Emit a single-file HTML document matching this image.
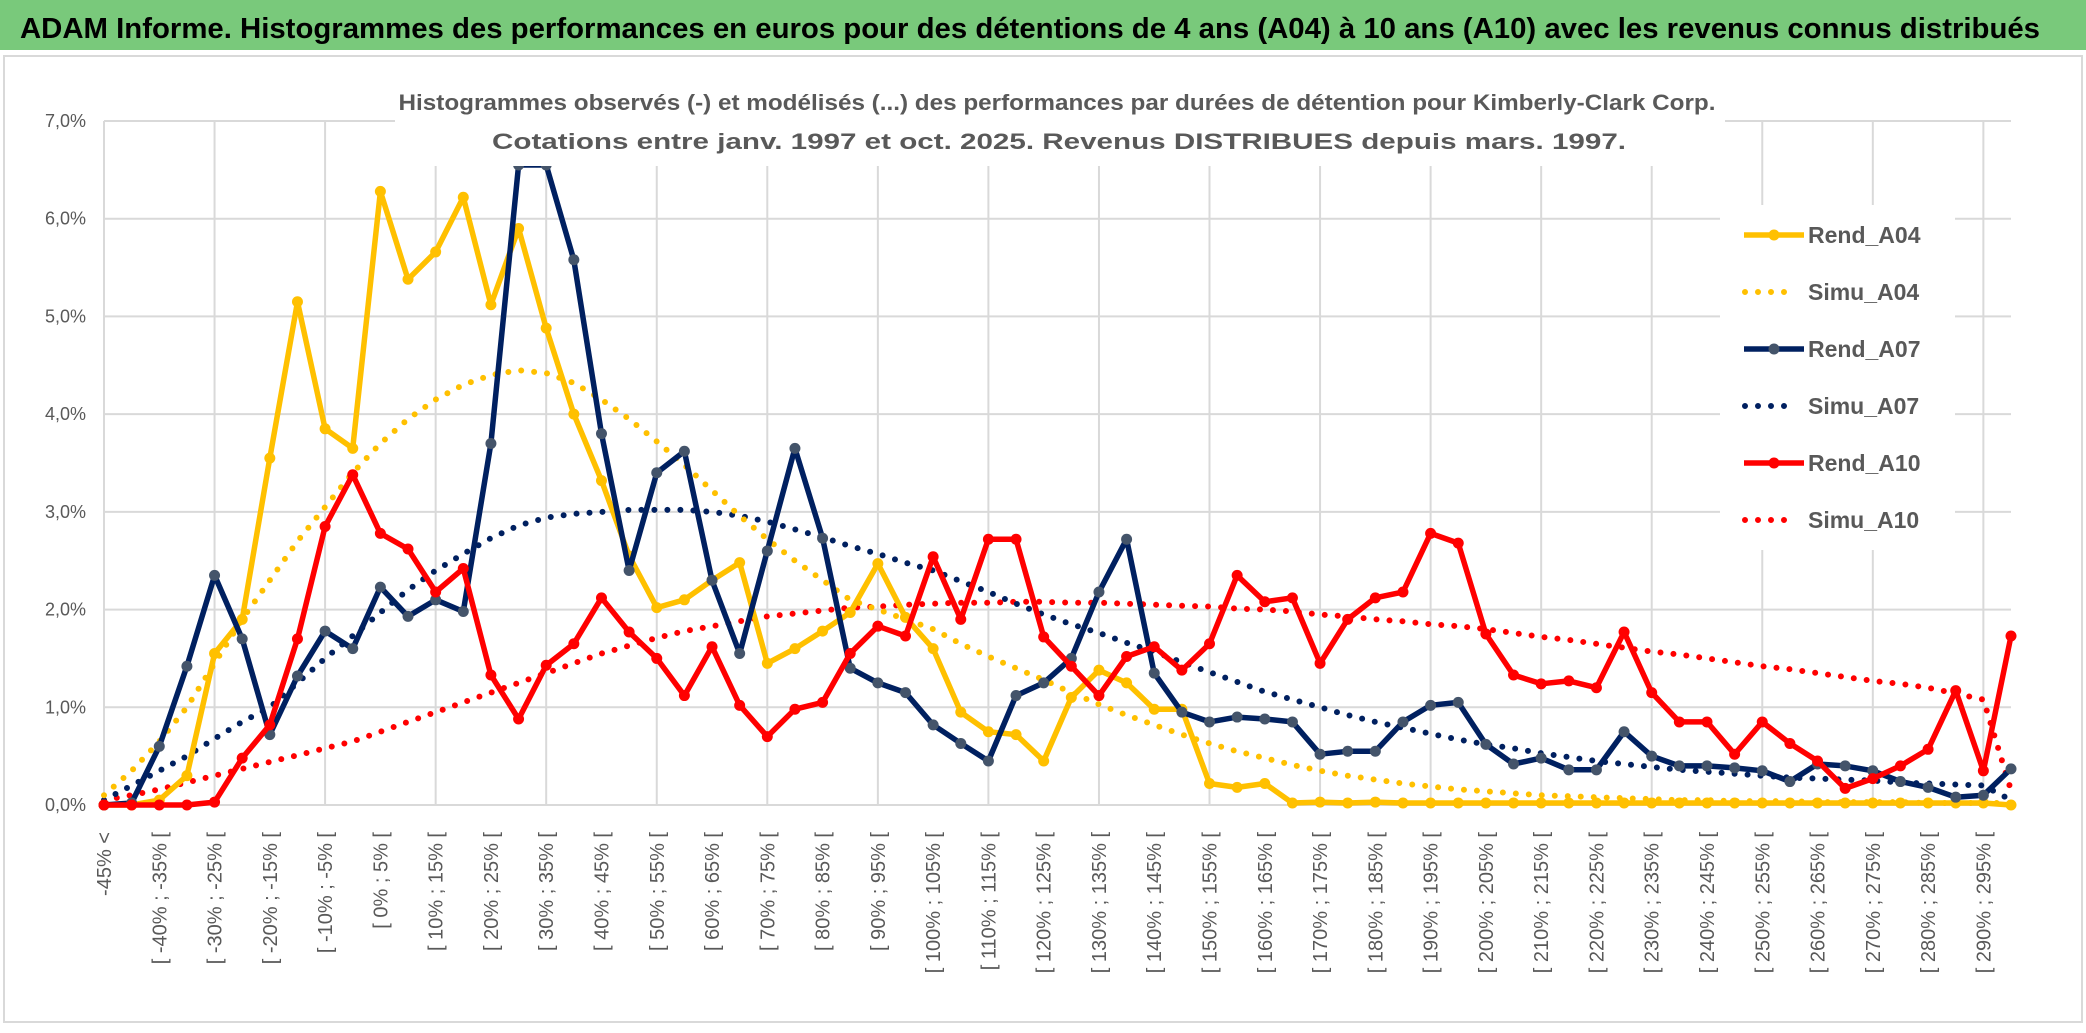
<!DOCTYPE html>
<html><head><meta charset="utf-8"><style>
html,body{margin:0;padding:0;background:#fff;}
svg{display:block;font-family:"Liberation Sans",sans-serif;}
</style></head><body>
<svg id="chart" width="2086" height="1033" viewBox="0 0 2086 1033" xmlns="http://www.w3.org/2000/svg">
<rect x="0" y="0" width="2086" height="50" fill="#79C97B"/>
<text x="20" y="38" font-size="29" font-weight="bold" fill="#000" textLength="2020" lengthAdjust="spacingAndGlyphs">ADAM Informe. Histogrammes des performances en euros pour des détentions de 4 ans (A04) à 10 ans (A10) avec les revenus connus distribués</text>
<rect x="4" y="56" width="2078" height="966" fill="#fff" stroke="#d9d9d9" stroke-width="2"/>
<g id="grid"></g>
<g id="series"></g>
<g id="ylabels"></g>
<g id="xlabels"></g>
<rect x="395" y="78" width="1330" height="88" fill="#fff"/>
<text x="1057" y="110" font-size="22" font-weight="bold" fill="#595959" text-anchor="middle" textLength="1317" lengthAdjust="spacingAndGlyphs">Histogrammes observés (-) et modélisés (...) des performances par durées de détention pour Kimberly-Clark Corp.</text>
<text x="1059" y="149" font-size="22" font-weight="bold" fill="#595959" text-anchor="middle" textLength="1134" lengthAdjust="spacingAndGlyphs">Cotations entre janv. 1997 et oct. 2025. Revenus DISTRIBUES depuis mars. 1997.</text>
<g id="legend"></g>
</svg>
<script>
const categories = ["-45% <"];
for (let v = -45; v < 300; v += 5) categories.push("[ " + v + "% ; " + (v + 5) + "% [");
const yTicks = [0,1,2,3,4,5,6,7];
const yTickLabels = ["0,0%","1,0%","2,0%","3,0%","4,0%","5,0%","6,0%","7,0%"];
const rendA04 = [0,0,0.05,0.3,1.55,1.9,3.55,5.15,3.85,3.65,6.28,5.38,5.66,6.22,5.12,5.9,4.88,4.0,3.32,2.55,2.02,2.1,2.3,2.48,1.45,1.6,1.78,1.97,2.47,1.92,1.6,0.95,0.75,0.72,0.45,1.1,1.38,1.25,0.98,0.98,0.22,0.18,0.22,0.02,0.03,0.02,0.03,0.02,0.02,0.02,0.02,0.02,0.02,0.02,0.02,0.02,0.02,0.02,0.02,0.02,0.02,0.02,0.02,0.02,0.02,0.02,0.02,0.02,0.02,0.0];
const simuA04 = [0.1,0.35,0.65,1.0,1.45,1.9,2.3,2.7,3.05,3.4,3.7,3.95,4.15,4.3,4.4,4.45,4.42,4.32,4.15,3.95,3.72,3.48,3.22,2.96,2.72,2.5,2.3,2.1,2.0,1.9,1.8,1.65,1.52,1.4,1.28,1.15,1.03,0.92,0.82,0.72,0.63,0.55,0.48,0.41,0.35,0.3,0.26,0.22,0.19,0.16,0.14,0.12,0.1,0.09,0.08,0.07,0.06,0.05,0.05,0.04,0.04,0.04,0.03,0.03,0.03,0.03,0.02,0.02,0.02,0.02];
const rendA07 = [0,0.02,0.6,1.42,2.35,1.7,0.72,1.32,1.78,1.6,2.23,1.93,2.1,1.98,3.7,6.55,6.55,5.58,3.8,2.4,3.4,3.62,2.3,1.55,2.6,3.65,2.73,1.4,1.25,1.15,0.82,0.63,0.45,1.12,1.25,1.5,2.18,2.72,1.35,0.95,0.85,0.9,0.88,0.85,0.52,0.55,0.55,0.85,1.02,1.05,0.62,0.42,0.48,0.36,0.36,0.75,0.5,0.4,0.4,0.38,0.35,0.24,0.42,0.4,0.35,0.24,0.18,0.08,0.1,0.37];
const simuA07 = [0.05,0.2,0.35,0.5,0.68,0.85,1.0,1.25,1.5,1.73,1.97,2.2,2.4,2.57,2.73,2.86,2.94,2.98,3.0,3.02,3.02,3.02,3.0,2.96,2.9,2.82,2.74,2.65,2.57,2.48,2.4,2.29,2.18,2.06,1.95,1.85,1.76,1.66,1.57,1.46,1.36,1.26,1.16,1.08,1.0,0.92,0.85,0.79,0.73,0.67,0.62,0.58,0.53,0.49,0.45,0.42,0.39,0.36,0.34,0.32,0.3,0.28,0.27,0.26,0.25,0.23,0.22,0.21,0.2,0.05];
const rendA10 = [0,0,0,0,0.03,0.48,0.82,1.7,2.85,3.38,2.78,2.62,2.18,2.42,1.33,0.88,1.43,1.65,2.12,1.77,1.5,1.12,1.62,1.02,0.7,0.98,1.05,1.55,1.83,1.73,2.54,1.9,2.72,2.72,1.72,1.42,1.12,1.52,1.62,1.38,1.65,2.35,2.08,2.12,1.45,1.9,2.12,2.18,2.78,2.68,1.75,1.33,1.24,1.27,1.2,1.77,1.15,0.85,0.85,0.52,0.85,0.63,0.45,0.17,0.27,0.4,0.57,1.17,0.35,1.73];
const simuA10 = [0.05,0.1,0.16,0.23,0.3,0.37,0.44,0.51,0.58,0.65,0.75,0.85,0.95,1.05,1.15,1.25,1.35,1.45,1.55,1.63,1.71,1.78,1.83,1.88,1.93,1.96,1.99,2.02,2.03,2.05,2.06,2.07,2.07,2.08,2.08,2.07,2.07,2.06,2.05,2.04,2.03,2.01,2.0,1.98,1.95,1.93,1.9,1.88,1.85,1.83,1.8,1.76,1.72,1.69,1.65,1.61,1.57,1.54,1.5,1.46,1.42,1.39,1.35,1.31,1.27,1.24,1.2,1.14,1.08,0.15];

const NS = "http://www.w3.org/2000/svg";
const X0 = 104, X1 = 2011, Y0 = 805, YTOP = 121, YMAX = 7;
function xScale(i){ return X0 + (X1 - X0) * i / (categories.length - 1); }
function yScale(v){ return Y0 - (Y0 - YTOP) * v / YMAX; }
function mk(tag, attrs, parent){ const e = document.createElementNS(NS, tag); for (const k in attrs) e.setAttribute(k, attrs[k]); parent.appendChild(e); return e; }

const grid = document.getElementById("grid");
yTicks.forEach((t, k) => {
  const l = mk("line", {x1: X0, x2: X1, y1: yScale(t), y2: yScale(t), stroke: "#d9d9d9", "stroke-width": 2}, grid);
  
  
  const tx = mk("text", {x: 86, y: yScale(t) + 6, "font-size": 18, fill: "#595959", "text-anchor": "end"}, document.getElementById("ylabels"));
  tx.textContent = yTickLabels[k];
  
  
});
for (let i = 0; i < categories.length; i += 4) {
  const l = mk("line", {x1: xScale(i), x2: xScale(i), y1: YTOP, y2: Y0, stroke: "#d9d9d9", "stroke-width": 2}, grid);
  
  
}
const xl = document.getElementById("xlabels");
for (let i = 0; i < categories.length; i += 2) {
  const x = xScale(i) + 7, y = 832;
  const tx = mk("text", {x: x, y: y, "font-size": 20, fill: "#595959", "text-anchor": "end", transform: "rotate(-90 " + x + " " + y + ")"}, xl);
  tx.textContent = categories[i];
  
  
}

const ser = document.getElementById("series");
function pts(arr){ return arr.map((v, i) => xScale(i).toFixed(1) + "," + yScale(v).toFixed(1)).join(" "); }
function dotted(arr, color, name){
  const p = mk("polyline", {points: pts(arr), fill: "none", stroke: color, "stroke-width": 6, "stroke-linecap": "round", "stroke-dasharray": "0 13"}, ser);
  
  
}
function solid(arr, color, mcolor, name){
  const p = mk("polyline", {points: pts(arr), fill: "none", stroke: color, "stroke-width": 5.5, "stroke-linejoin": "round"}, ser);
  
  
  arr.forEach((v, i) => {
    const c = mk("circle", {cx: xScale(i), cy: yScale(v), r: 5.5, fill: mcolor}, ser);
    
    
  });
}
dotted(simuA10, "#FF0000", "simu-a10-line");
dotted(simuA07, "#002060", "simu-a07-line");
dotted(simuA04, "#FFC000", "simu-a04-line");
solid(rendA04, "#FFC000", "#FFC000", "rend-a04-line");
solid(rendA07, "#002060", "#44546A", "rend-a07-line");
solid(rendA10, "#FF0000", "#FF0000", "rend-a10-line");

const lg = document.getElementById("legend");
const bg = mk("rect", {x: 1720, y: 205, width: 235, height: 345, fill: "#fff"}, lg);


const legItems = [["Rend_A04","#FFC000","#FFC000",false],["Simu_A04","#FFC000","",true],["Rend_A07","#002060","#44546A",false],["Simu_A07","#002060","",true],["Rend_A10","#FF0000","#FF0000",false],["Simu_A10","#FF0000","",true]];
legItems.forEach((it, k) => {
  const y = 235 + k * 57;
  if (it[3]) {
    const l = mk("line", {x1: 1745, x2: 1795, y1: y, y2: y, stroke: it[1], "stroke-width": 6, "stroke-linecap": "round", "stroke-dasharray": "0 13"}, lg);
    
    
  } else {
    const l = mk("line", {x1: 1744, x2: 1804, y1: y, y2: y, stroke: it[1], "stroke-width": 5.5}, lg);
    
    
    const c = mk("circle", {cx: 1774, cy: y, r: 5.5, fill: it[2]}, lg);
    
    
  }
  const t = mk("text", {x: 1808, y: y + 8, "font-size": 23, fill: "#595959", "font-weight": "bold"}, lg);
  t.textContent = it[0];
  
  
});
</script>
</body></html>
